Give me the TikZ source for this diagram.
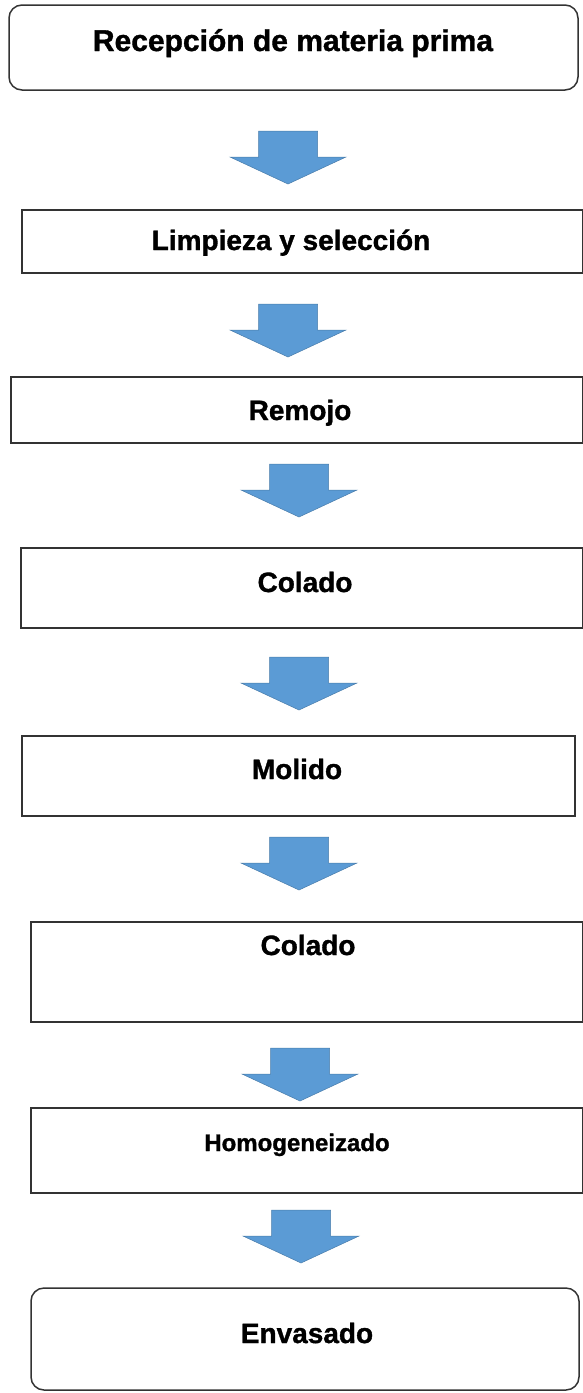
\documentclass[tikz,border=0pt]{standalone}
\usepackage{fontspec}
\setmainfont{Liberation Sans}[BoldFeatures={FakeBold=1.2}]
\definecolor{arrowblue}{HTML}{5B9BD5}
\begin{document}
\begin{tikzpicture}[x=1pt,y=-1pt,
  box/.style={draw=black!80, line width=1.5pt, fill=white, inner sep=0pt, rectangle},
  rbox/.style={box, rounded corners=13pt},
  lbl/.style={font=\bfseries\fontsize{28}{30}\selectfont, inner sep=0pt, anchor=base},
  slbl/.style={lbl, font=\bfseries\fontsize{24}{26}\selectfont},
  flow/.pic={\fill[arrowblue, draw=arrowblue!80!black, line width=0.5pt]
     (-29.5,0) -- (29.5,0) -- (29.5,26) -- (58,26) -- (0,53) -- (-58,26) -- (-29.5,26) -- cycle;}
]
\useasboundingbox (0,0) rectangle (583,1393);
% boxes
\node[rbox, minimum width=569pt, minimum height=85pt] (b1) at (293.5,47.5) {};
\node[box, minimum width=561pt, minimum height=63pt] (b2) at (302.5,241.5) {};
\node[box, minimum width=572pt, minimum height=66pt] (b3) at (297,410) {};
\node[box, minimum width=562pt, minimum height=80pt] (b4) at (302,588) {};
\node[box, minimum width=553pt, minimum height=80pt] (b5) at (298.5,776) {};
\node[box, minimum width=552pt, minimum height=100pt] (b6) at (307,972) {};
\node[box, minimum width=552pt, minimum height=85pt] (b7) at (307,1150.5) {};
\node[rbox, minimum width=548pt, minimum height=102pt] (b8) at (305,1339) {};
% labels
\node[lbl, font=\bfseries\fontsize{30}{32}\selectfont] (t1) at (293,51) {Recepción de materia prima};
\node[lbl] (t2) at (291,250) {Limpieza y selección};
\node[lbl] (t3) at (300,420) {Remojo};
\node[lbl] (t4) at (305,592) {Colado};
\node[lbl] (t5) at (297,779) {Molido};
\node[lbl] (t6) at (308,955) {Colado};
\node[slbl] (t7) at (297,1151) {Homogeneizado};
\node[lbl] (t8) at (307,1343) {Envasado};
% arrows
\pic (a1) at (288,131) {flow};
\pic (a2) at (288,304) {flow};
\pic (a3) at (299,464) {flow};
\pic (a4) at (299,657) {flow};
\pic (a5) at (299,837) {flow};
\pic (a6) at (300,1048) {flow};
\pic (a7) at (301,1210) {flow};
\end{tikzpicture}
\end{document}
